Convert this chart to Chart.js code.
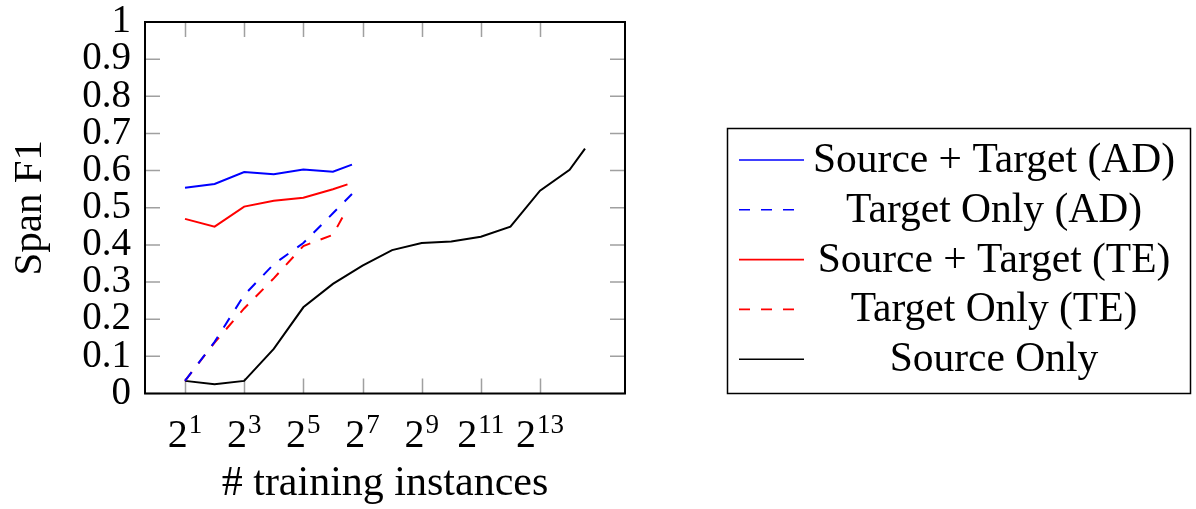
<!DOCTYPE html>
<html><head><meta charset="utf-8">
<script src="https://cdn.jsdelivr.net/npm/chart.js@4.4.1/dist/chart.umd.min.js"></script>
<style>html,body{margin:0;padding:0;background:#fff}#wrap{width:1196px;height:509px;position:relative}</style>
</head><body><div id="wrap"><canvas id="c"></canvas></div>
<script>
// ---- data ----
const seriesLabels = ['Source + Target (AD)', 'Target Only (AD)', 'Source + Target (TE)', 'Target Only (TE)', 'Source Only'];
const xAD = [2, 4, 8, 16, 32, 64, 100];
const srcTgtAD = [0.554, 0.564, 0.596, 0.590, 0.603, 0.597, 0.616];
const tgtOnlyAD = [0.034, 0.139, 0.265, 0.348, 0.405, 0.485, 0.537];
const xTE = [2, 4, 8, 16, 32, 64, 90];
const srcTgtTE = [0.470, 0.449, 0.503, 0.519, 0.527, 0.550, 0.563];
const tgtOnlyTE = [0.034, 0.137, 0.229, 0.310, 0.397, 0.427, 0.499];
const xSrc = [2, 4, 8, 16, 32, 64, 128, 256, 512, 1024, 2048, 4096, 8192, 16384, 23500];
const srcOnly = [0.034, 0.025, 0.034, 0.120, 0.232, 0.295, 0.344, 0.386, 0.405, 0.409, 0.422, 0.449, 0.546, 0.602, 0.659];
const xTickExponents = [1, 3, 5, 7, 9, 11, 13];
const yTickValues = [0, 0.1, 0.2, 0.3, 0.4, 0.5, 0.6, 0.7, 0.8, 0.9, 1];
const xTitle = '# training instances';
const yTitle = 'Span F1';

const FONT = '"Liberation Serif","Times New Roman",serif';
const pts = (xs, ys) => xs.map((x, i) => ({x: x, y: ys[i]}));

// x limits: log2 range enlarged by 10% each side (pgfplots style)
const allX = xAD.concat(xTE, xSrc);
const lo = Math.log2(Math.min(...allX)), hi = Math.log2(Math.max(...allX));
const pad = 0.1 * (hi - lo);

const colors = ['#0000ff', '#0000ff', '#ff0000', '#ff0000', '#000000'];
const dashes = [[], [11, 11], [], [11, 11], []];
const seriesData = [pts(xAD, srcTgtAD), pts(xAD, tgtOnlyAD), pts(xTE, srcTgtTE), pts(xTE, tgtOnlyTE), pts(xSrc, srcOnly)];

const datasets = seriesData.map((d, i) => ({
  label: seriesLabels[i], data: d, borderColor: colors[i], backgroundColor: colors[i],
  borderWidth: 2, borderDash: dashes[i], pointRadius: 0, tension: 0, fill: false
}));

const framePlugin = {
  id: 'frame',
  beforeDatasetsDraw(chart) {
    const {ctx, chartArea: a, scales: {x, y}} = chart;
    ctx.save();
    ctx.strokeStyle = '#a0a0a0';
    ctx.lineWidth = 1.5;
    const tl = 15;
    ctx.beginPath();
    xTickExponents.forEach(e => {
      const px = Math.round(x.getPixelForValue(Math.pow(2, e))) + 0.5;
      ctx.moveTo(px, a.bottom); ctx.lineTo(px, a.bottom - tl);
      ctx.moveTo(px, a.top); ctx.lineTo(px, a.top + tl);
    });
    yTickValues.forEach(v => {
      const py = y.getPixelForValue(v);
      ctx.moveTo(a.left, py); ctx.lineTo(a.left + tl, py);
      ctx.moveTo(a.right, py); ctx.lineTo(a.right - tl, py);
    });
    ctx.stroke();
    ctx.restore();
  },
  afterDatasetsDraw(chart) {
    const {ctx, chartArea: a, scales: {x}} = chart;
    ctx.save();
    ctx.strokeStyle = '#000';
    ctx.lineWidth = 2;
    ctx.strokeRect(a.left, a.top, a.right - a.left, a.bottom - a.top);
    // x tick labels 2^e
    ctx.fillStyle = '#000';
    ctx.textBaseline = 'alphabetic';
    xTickExponents.forEach(e => {
      const px = x.getPixelForValue(Math.pow(2, e));
      const baseFont = '40px ' + FONT, supFont = '27px ' + FONT;
      ctx.font = baseFont; const wb = ctx.measureText('2').width;
      ctx.font = supFont; const ws = ctx.measureText(String(e)).width;
      const start = px - (wb + ws + 1) / 2;
      ctx.font = baseFont; ctx.textAlign = 'left';
      ctx.fillText('2', start, a.bottom + 53);
      ctx.font = supFont;
      ctx.fillText(String(e), start + wb + 1, a.bottom + 39);
    });
    // legend
    const bx = 727, by = 128, bw = 463, bh = 265;
    ctx.lineWidth = 1.5;
    ctx.strokeRect(bx + 0.5, by + 0.5, bw, bh);
    ctx.font = '41.5px ' + FONT;
    ctx.textAlign = 'center';
    ctx.textBaseline = 'middle';
    chart.data.datasets.forEach((ds, i) => {
      const ry = 160 + i * 49.8;
      ctx.strokeStyle = ds.borderColor;
      ctx.lineWidth = 1.6;
      ctx.setLineDash(ds.borderDash || []);
      ctx.beginPath(); ctx.moveTo(739, ry); ctx.lineTo(804, ry); ctx.stroke();
      ctx.setLineDash([]);
      ctx.fillStyle = '#000';
      ctx.fillText(ds.label, 994, ry + 1);
    });
    ctx.restore();
  }
};

new Chart(document.getElementById('c'), {
  type: 'line',
  data: {datasets: datasets},
  options: {
    responsive: true, maintainAspectRatio: false, animation: false,
    layout: {padding: {top: 22, right: 571, left: 0, bottom: 0}},
    plugins: {legend: {display: false}, tooltip: {enabled: false}},
    scales: {
      x: {
        type: 'logarithmic',
        min: Math.pow(2, lo - pad), max: Math.pow(2, hi + pad),
        afterBuildTicks: s => { s.ticks = xTickExponents.map(e => ({value: Math.pow(2, e)})); },
        afterFit: s => { s.height = 115.5; s.paddingLeft = 0; s.paddingRight = 0; },
        grid: {display: false, drawTicks: false},
        border: {display: false},
        ticks: {display: false},
        title: {display: true, text: xTitle, color: '#000', font: {family: FONT, size: 42}, padding: {top: 0, bottom: 0}}
      },
      y: {
        type: 'linear', min: 0, max: 1,
        afterBuildTicks: s => { s.ticks = yTickValues.map(v => ({value: v})); },
        afterFit: s => { s.width = 145; s.paddingTop = 0; s.paddingBottom = 0; },
        grid: {display: false, drawTicks: false},
        border: {display: false},
        ticks: {autoSkip: false, color: '#000', font: {family: FONT, size: 39}, padding: 14, callback: v => String(v)},
        title: {display: true, text: yTitle, color: '#000', font: {family: FONT, size: 41}, padding: {top: 6, bottom: 0}}
      }
    }
  },
  plugins: [framePlugin]
});
</script>
</body></html>
